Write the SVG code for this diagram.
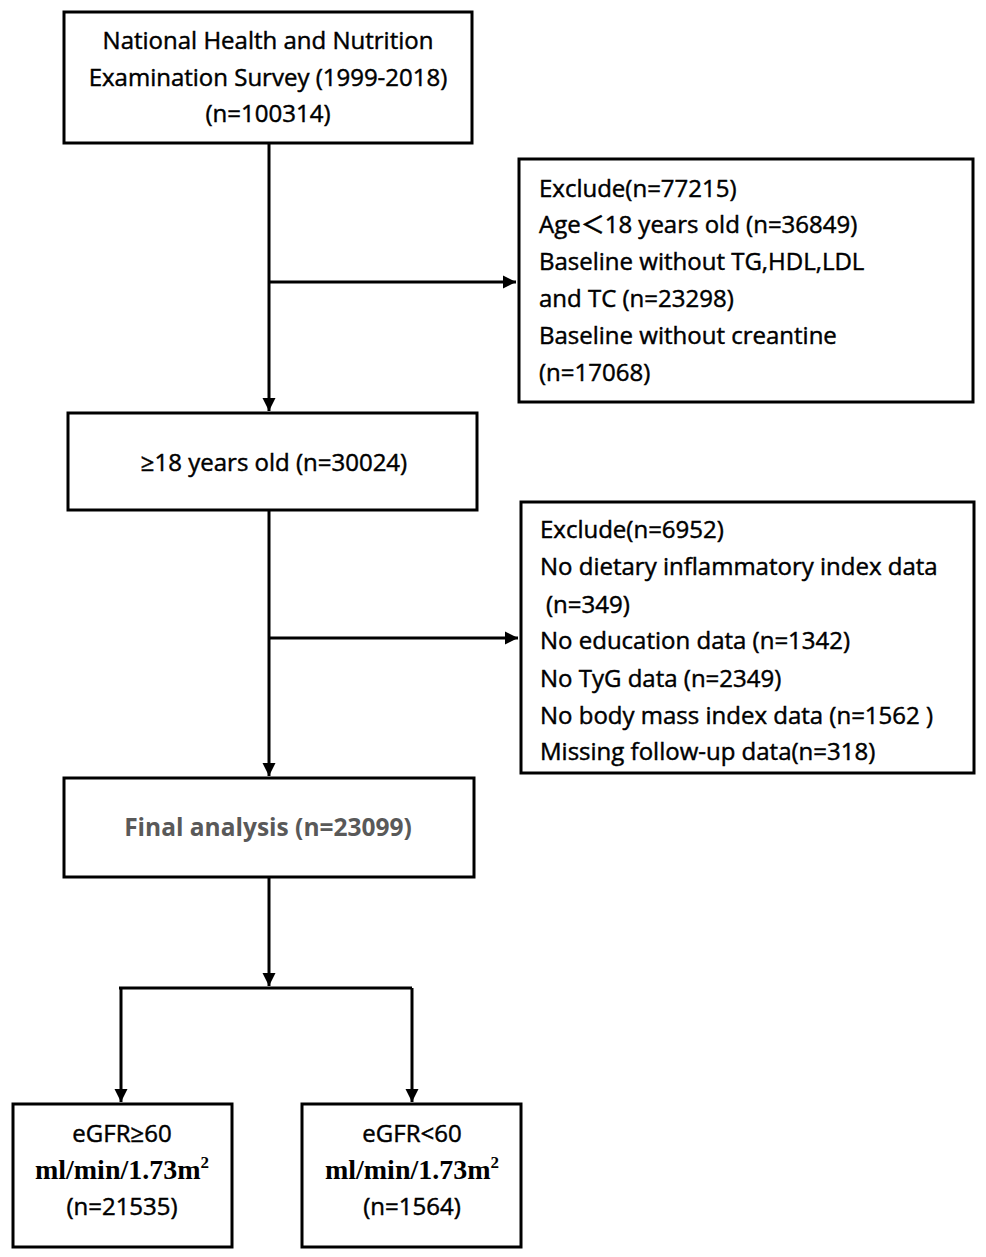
<svg xmlns="http://www.w3.org/2000/svg" width="986" height="1257" viewBox="0 0 986 1257">
<style>
.box{fill:#fff;stroke:#000;stroke-width:3}
.t{font-family:"Open Sans","Noto Sans CJK SC",sans-serif;font-size:24px;font-weight:500;fill:#000;stroke:#000;stroke-width:0.45}
.c{text-anchor:middle}
.fin{font-weight:bold;fill:#595959;stroke:none;font-size:24.5px}
.u{font-family:"Liberation Serif",serif;font-weight:bold;font-size:28px;fill:#000;text-anchor:middle}
.ln{stroke:#000;stroke-width:3;fill:none}
</style>
<defs>
<marker id="ah" viewBox="0 0 10 10" refX="10" refY="5" markerWidth="4.5" markerHeight="4.5" orient="auto" markerUnits="strokeWidth">
<path d="M0,0 L10,5 L0,10 z" fill="#000"/>
</marker>
</defs>
<rect width="986" height="1257" fill="#fff"/>
<g id="connectors">
<line class="ln" x1="269" y1="143" x2="269" y2="411" marker-end="url(#ah)"/>
<line class="ln" x1="269" y1="282" x2="516" y2="282" marker-end="url(#ah)"/>
<line class="ln" x1="269" y1="510" x2="269" y2="776" marker-end="url(#ah)"/>
<line class="ln" x1="269" y1="638" x2="518" y2="638" marker-end="url(#ah)"/>
<line class="ln" x1="269" y1="877" x2="269" y2="986" marker-end="url(#ah)"/>
<polyline class="ln" points="119,988 412,988"/>
<line class="ln" x1="121" y1="988" x2="121" y2="1102" marker-end="url(#ah)"/>
<line class="ln" x1="412" y1="988" x2="412" y2="1102" marker-end="url(#ah)"/>
</g>
<g id="nhanes">
<rect class="box" x="64" y="12" width="408" height="131"/>
<text class="t c" x="268" y="49">National Health and Nutrition</text>
<text class="t c" x="268" y="86">Examination Survey (1999-2018)</text>
<text class="t c" x="268" y="122">(n=100314)</text>
</g>
<g id="exclude1">
<rect class="box" x="519" y="159" width="454" height="243"/>
<text class="t" x="539" y="197">Exclude(n=77215)</text>
<text class="t" x="539" y="233">Age＜18 years old (n=36849)</text>
<text class="t" x="539" y="270">Baseline without TG,HDL,LDL</text>
<text class="t" x="539" y="307">and TC (n=23298)</text>
<text class="t" x="539" y="344">Baseline without creantine</text>
<text class="t" x="539" y="381">(n=17068)</text>
</g>
<g id="adults">
<rect class="box" x="68" y="413" width="409" height="97"/>
<text class="t c" x="274" y="471">≥18 years old (n=30024)</text>
</g>
<g id="exclude2">
<rect class="box" x="521" y="502" width="453" height="271"/>
<text class="t" x="540" y="538">Exclude(n=6952)</text>
<text class="t" x="540" y="575">No dietary inflammatory index data</text>
<text class="t" x="546" y="613">(n=349)</text>
<text class="t" x="540" y="649">No education data (n=1342)</text>
<text class="t" x="540" y="687">No TyG data (n=2349)</text>
<text class="t" x="540" y="724">No body mass index data (n=1562 )</text>
<text class="t" x="540" y="760">Missing follow-up data(n=318)</text>
</g>
<g id="final">
<rect class="box" x="64" y="778" width="410" height="99"/>
<text class="t c fin" x="268" y="836">Final analysis (n=23099)</text>
</g>
<g id="egfr_high">
<rect class="box" x="13" y="1104" width="219" height="143"/>
<text class="t c" x="122" y="1142">eGFR≥60</text>
<text class="u" x="122" y="1179">ml/min/1.73m<tspan font-size="17" dy="-11">2</tspan></text>
<text class="t c" x="122" y="1215">(n=21535)</text>
</g>
<g id="egfr_low">
<rect class="box" x="302" y="1104" width="219" height="143"/>
<text class="t c" x="412" y="1142">eGFR&lt;60</text>
<text class="u" x="412" y="1179">ml/min/1.73m<tspan font-size="17" dy="-11">2</tspan></text>
<text class="t c" x="412" y="1215">(n=1564)</text>
</g>
</svg>
